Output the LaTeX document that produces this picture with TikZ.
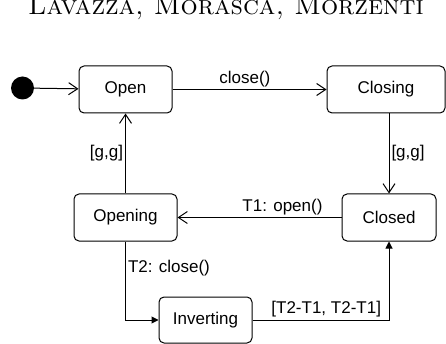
\documentclass[tikz,border=0pt]{standalone}
\usepackage{fontspec}
\newfontfamily\diag{Liberation Sans}
\usetikzlibrary{arrows.meta,positioning}
\tikzset{
  statebox/.style={draw,line width=1pt,rounded corners=5pt,inner sep=0pt,
    minimum height=47pt,font=\diag\fontsize{17}{20}\selectfont},
  lbl/.style={font=\diag\fontsize{17}{20}\selectfont,inner sep=2pt},
  openarrow/.style={line width=1pt,-{Straight Barb[length=9pt,width=12pt,line width=1pt]}},
  fillarrow/.style={line width=1pt,-{Triangle[length=7pt,width=7pt]}}
}
\begin{document}
\begin{tikzpicture}[x=1pt,y=-1pt]
\useasboundingbox (0,0) rectangle (446,344);
\clip (0,0) rectangle (446,344);
\node[anchor=base,inner sep=0pt,font=\fontsize{27}{32}\selectfont] (hdr) at (226,15) {\textsc{Lavazza, Morasca, Morzenti}};
\node[circle,fill=black,minimum size=23pt,inner sep=0pt] (init) at (22.5,88) {};
\node[statebox,minimum width=93pt] (open) at (125.5,89.5) {Open};
\node[statebox,minimum width=118pt] (closing) at (386,89.5) {Closing};
\node[statebox,minimum width=94pt] (closed) at (389,217.5) {Closed};
\node[statebox,minimum width=103pt] (opening) at (125.5,217.5) {Opening};
\node[statebox,minimum width=93pt,minimum height=46pt] (inverting) at (205.5,320) {Inverting};
\draw[openarrow] (init) -- (open);
\draw[openarrow] (open) -- node[lbl,above,pos=0.47] {close()} (closing);
\draw[openarrow] (closed.north |- closing.south) -- node[lbl,right] {[g,g]} (closed.north);
\draw[openarrow] (closed) -- node[lbl,above,pos=0.36] {T1: open()} (opening);
\draw[openarrow] (opening) -- node[lbl,left] {[g,g]} (open);
\draw[fillarrow] (opening.south) |- node[lbl,right,pos=0.17] {T2: close()} (inverting.west);
\draw[fillarrow] (inverting.east) -| node[lbl,above,pos=0.27] {[T2-T1, T2-T1]} (closed.south);
\end{tikzpicture}
\end{document}
